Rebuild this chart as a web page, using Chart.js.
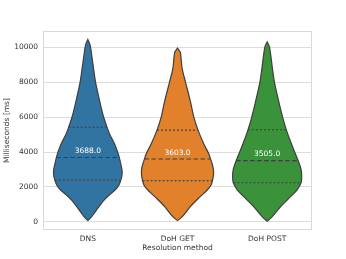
<!DOCTYPE html>
<html>
<head>
<meta charset="utf-8">
<script src="https://cdn.jsdelivr.net/npm/chart.js@4/dist/chart.umd.min.js"></script>
<style>
html,body{margin:0;padding:0;background:#fff;}
#wrap{width:346px;height:259px;}
</style>
</head>
<body>
<div id="wrap"><canvas id="c" width="346" height="259"></canvas></div>
<script>
// ---- data ----
const categories = ["DNS", "DoH GET", "DoH POST"];
const medians = [3688.0, 3603.0, 3505.0];
const q1s = [2392, 2360, 2240];
const q3s = [5420, 5250, 5270];
const yTicks = [0, 2000, 4000, 6000, 8000, 10000];

// violin density profiles: level (ms) and half-width (category units)
const dnsLevels = [74, 319, 600, 888, 1200, 1458, 1840, 2100, 2390, 2700, 2980, 3300, 3680, 3930, 4500, 5000, 5445, 6000, 6390, 6870, 8000, 8770, 9400, 10000, 10250, 10440];
const dnsWidths = [0, 0.045, 0.086, 0.126, 0.173, 0.220, 0.307, 0.346, 0.368, 0.382, 0.381, 0.368, 0.351, 0.337, 0.295, 0.245, 0.212, 0.176, 0.156, 0.134, 0.086, 0.064, 0.047, 0.030, 0.017, 0];
const getLevels = [74, 320, 890, 1460, 1840, 2100, 2370, 2700, 2980, 3300, 3605, 3930, 4500, 5250, 6000, 6870, 8000, 8770, 9400, 9720, 9940];
const getWidths = [0, 0.056, 0.145, 0.256, 0.334, 0.373, 0.390, 0.401, 0.401, 0.388, 0.368, 0.346, 0.290, 0.229, 0.182, 0.145, 0.089, 0.052, 0.039, 0.030, 0];
const postLevels = [35, 320, 890, 1460, 1840, 2255, 2600, 2980, 3505, 3930, 4500, 5250, 6000, 6870, 8000, 8770, 10000, 10290];
const postWidths = [0, 0.059, 0.153, 0.264, 0.334, 0.379, 0.385, 0.379, 0.346, 0.312, 0.268, 0.215, 0.172, 0.130, 0.081, 0.059, 0.026, 0];

const colors = ["#3274a1", "#e1812c", "#3a923a"];
const edgeColor = "#3f3f3f";

const profiles = [
  {levels: dnsLevels, widths: dnsWidths},
  {levels: getLevels, widths: getWidths},
  {levels: postLevels, widths: postWidths}
];

function widthAt(p, v) {
  const L = p.levels, W = p.widths;
  for (let i = 1; i < L.length; i++) {
    if (v <= L[i]) {
      const t = (v - L[i-1]) / (L[i] - L[i-1]);
      return W[i-1] + t * (W[i] - W[i-1]);
    }
  }
  return 0;
}

const datasets = [];
profiles.forEach((p, i) => {
  const pts = [];
  for (let k = 0; k < p.levels.length; k++) pts.push({x: i + p.widths[k], y: p.levels[k]});
  for (let k = p.levels.length - 1; k >= 0; k--) pts.push({x: i - p.widths[k], y: p.levels[k]});
  datasets.push({
    data: pts, showLine: true, fill: 'shape', backgroundColor: colors[i],
    borderColor: edgeColor, borderWidth: 1.2, pointRadius: 0, tension: 0.3, order: 2
  });
  [[q1s[i], [2, 2]], [medians[i], [4.5, 2.5]], [q3s[i], [2, 2]]].forEach(([v, dash]) => {
    const w = widthAt(p, v);
    datasets.push({
      data: [{x: i - w, y: v}, {x: i + w, y: v}], showLine: true, fill: false,
      borderColor: edgeColor, borderWidth: 1.1, borderDash: dash, pointRadius: 0, order: 1
    });
  });
});

const frame = {
  id: 'frame',
  afterDraw(chart) {
    const {ctx, chartArea: a} = chart;
    ctx.save();
    ctx.strokeStyle = '#d9d9d9';
    ctx.lineWidth = 1;
    ctx.strokeRect(a.left + 0.5, a.top + 0.5, a.right - a.left - 1, a.bottom - a.top - 1);
    ctx.restore();
  },
  afterDatasetsDraw(chart) {
    const {ctx, scales: {x, y}} = chart;
    ctx.save();
    ctx.fillStyle = '#ffffff';
    ctx.font = '7.5px "DejaVu Sans"';
    ctx.textAlign = 'center';
    ctx.textBaseline = 'middle';
    medians.forEach((m, i) => {
      ctx.fillText(m.toFixed(1), x.getPixelForValue(i), y.getPixelForValue(m) - 6.3);
    });
    ctx.restore();
  }
};

const font = {family: 'DejaVu Sans', size: 7.5};
new Chart(document.getElementById('c'), {
  type: 'scatter',
  data: {datasets},
  options: {
    responsive: false, animation: false, devicePixelRatio: 1,
    layout: {padding: {top: 31, right: 34, left: 0, bottom: 0}},
    plugins: {legend: {display: false}, tooltip: {enabled: false}},
    scales: {
      x: {
        type: 'linear', min: -0.5, max: 2.5,
        grid: {display: false, drawTicks: false}, border: {display: false},
        afterBuildTicks: s => { s.ticks = categories.map((c, i) => ({value: i})); },
        afterFit: s => { s.height = 29; },
        ticks: {padding: 4.5, color: '#333', font, maxRotation: 0, callback: v => categories[v]},
        title: {display: true, text: 'Resolution method', color: '#333', font, padding: {top: 0, bottom: 6}}
      },
      y: {
        min: -460, max: 10920,
        grid: {color: '#dddddd', lineWidth: 1, drawTicks: false}, border: {display: false},
        afterBuildTicks: s => { s.ticks = yTicks.map(v => ({value: v})); },
        afterFit: s => { s.width = 43; },
        ticks: {padding: 5, color: '#333', font, callback: v => String(v)},
        title: {display: true, text: 'Milliseconds [ms]', color: '#333', font, padding: {top: 2.5, bottom: 0}}
      }
    }
  },
  plugins: [frame]
});
</script>
</body>
</html>
